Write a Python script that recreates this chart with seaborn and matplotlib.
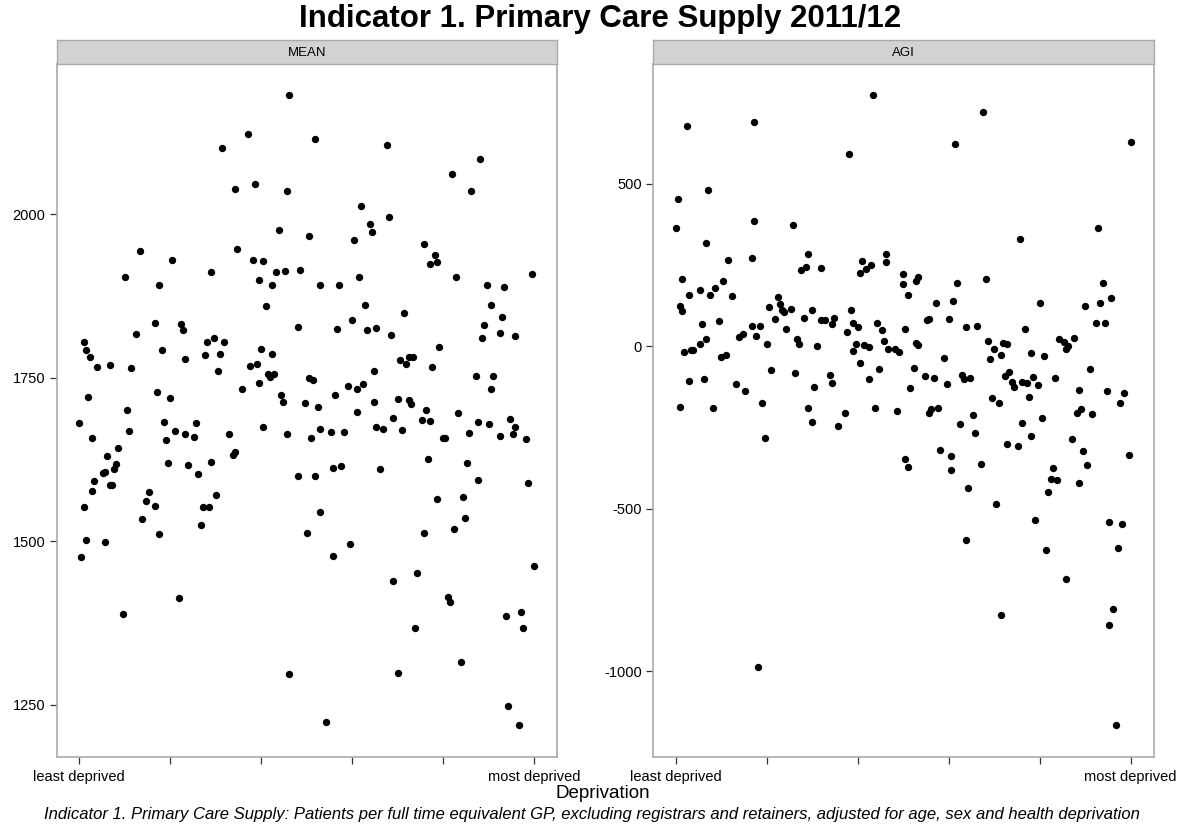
#indicator 1 - primary care supply, mean vs agi by deprivation

import numpy as np
import pandas as pd
import matplotlib.pyplot as plt
import seaborn as sns

#data (rank deprivasi 1..211)
mean_rank = [98, 79, 67, 110, 73, 82, 97, 93, 107, 29, 44, 74, 81, 86, 22, 38, 62, 92, 96, 103,
             84, 90, 112, 87, 102, 36, 48, 49, 27, 3, 4, 6, 9, 15, 25, 39, 50, 60, 63, 68,
             59, 66, 65, 85, 90, 80, 83, 88, 89, 91, 84, 76, 107, 109, 94, 95, 105, 111, 5, 37,
             43, 23, 1, 24, 40, 45, 50, 55, 54, 41, 7, 70, 86, 97, 108, 112, 19, 14, 18, 17,
             12, 13, 8, 7, 15, 16, 3, 4, 2, 13, 21, 42, 51, 56, 62, 33, 32, 36, 30, 38,
             58, 61, 64, 57, 72, 73, 47, 102, 110, 106, 98, 112, 143, 186, 173, 182, 131, 144, 135, 136,
             128, 160, 165, 163, 166, 121, 130, 175, 210, 189, 197, 133, 151, 191, 196, 127, 120, 134, 138, 145,
             188, 187, 195, 202, 167, 149, 153, 155, 152, 164, 137, 184, 192, 191, 125, 129, 132, 119, 137, 148,
             153, 154, 129, 161, 176, 146, 159, 163, 185, 190, 200, 202, 201, 195, 207, 181, 117, 123, 138, 141,
             150, 169, 170, 118, 122, 140, 126, 118, 162, 180, 185, 208, 166, 178, 179, 174, 160, 211, 157, 146,
             171, 172, 198, 205, 206, 156, 148, 177, 199, 204, 115]
mean_value = [2182, 2123, 2101, 2115, 2039, 2046, 2035, 1976, 1967, 1944, 1930, 1946, 1929, 1928, 1904, 1891, 1912, 1911, 1913, 1915,
              1899, 1891, 1892, 1860, 1827, 1833, 1832, 1822, 1817, 1805, 1792, 1782, 1766, 1769, 1765, 1792, 1778, 1804, 1810, 1804,
              1784, 1786, 1760, 1793, 1786, 1767, 1771, 1756, 1751, 1756, 1741, 1732, 1749, 1747, 1723, 1713, 1711, 1705, 1720, 1728,
              1718, 1701, 1680, 1668, 1682, 1668, 1664, 1680, 1659, 1655, 1657, 1663, 1675, 1664, 1658, 1671, 1643, 1630, 1618, 1610,
              1604, 1606, 1592, 1577, 1586, 1585, 1552, 1502, 1475, 1498, 1388, 1620, 1617, 1603, 1621, 1575, 1561, 1554, 1533, 1511,
              1552, 1552, 1570, 1525, 1631, 1636, 1413, 1599, 1599, 1512, 1297, 1545, 2106, 2084, 2062, 2036, 2013, 1996, 1985, 1973,
              1960, 1954, 1938, 1924, 1927, 1891, 1904, 1904, 1908, 1892, 1889, 1861, 1849, 1861, 1843, 1838, 1825, 1822, 1826, 1815,
              1831, 1810, 1818, 1814, 1796, 1777, 1781, 1781, 1770, 1766, 1760, 1753, 1752, 1732, 1737, 1732, 1740, 1724, 1713, 1717,
              1716, 1709, 1698, 1701, 1696, 1688, 1685, 1683, 1682, 1679, 1686, 1674, 1664, 1660, 1656, 1665, 1667, 1667, 1674, 1672,
              1670, 1657, 1658, 1611, 1615, 1610, 1496, 1477, 1626, 1619, 1593, 1589, 1564, 1567, 1536, 1519, 1512, 1462, 1451, 1439,
              1415, 1407, 1386, 1392, 1367, 1367, 1299, 1315, 1248, 1218, 1223]

agi_rank = [92, 6, 37, 81, 2, 16, 1, 37, 55, 15, 25, 36, 62, 98, 4, 7, 12, 17, 19, 23,
            27, 59, 61, 68, 87, 89, 91, 86, 98, 106, 106, 108, 3, 4, 13, 21, 48, 44, 49, 50,
            51, 54, 47, 52, 36, 40, 38, 60, 64, 68, 70, 74, 73, 82, 83, 85, 94, 96, 107, 80,
            30, 32, 12, 15, 43, 57, 58, 66, 84, 88, 90, 97, 99, 102, 104, 83, 5, 8, 9, 22,
            24, 86, 95, 45, 56, 72, 73, 90, 7, 14, 29, 33, 65, 109, 3, 18, 41, 62, 64, 76,
            79, 93, 103, 42, 107, 108, 39, 143, 130, 211, 196, 160, 112, 113, 131, 144, 121, 129, 169, 190,
            197, 198, 202, 117, 118, 127, 135, 140, 162, 195, 199, 112, 113, 125, 145, 148, 146, 151, 152, 154,
            165, 171, 178, 180, 185, 181, 182, 111, 116, 120, 126, 133, 134, 137, 155, 153, 156, 157, 161, 163,
            166, 168, 176, 192, 164, 147, 150, 187, 200, 208, 206, 118, 119, 122, 138, 132, 139, 161, 165, 170,
            186, 188, 193, 184, 123, 128, 128, 142, 154, 159, 136, 149, 135, 151, 167, 172, 181, 175, 174, 177,
            173, 189, 191, 187, 210, 201, 207, 205, 203, 201, 204]
agi_value = [773, 679, 690, 593, 453, 480, 363, 385, 372, 319, 265, 273, 283, 285, 206, 157, 174, 157, 179, 201,
             155, 234, 244, 242, 261, 239, 249, 225, 258, 222, 192, 158, 124, 108, 68, 77, 151, 122, 129, 112,
             104, 115, 83, 54, 62, 61, 31, 86, 112, 82, 80, 88, 68, 111, 71, 59, 73, 51, 54, 44,
             29, 37, 8, 22, 8, 21, 8, 1, 7, 3, -2, 16, -10, -8, -18, -15, -18, -13, -13, -32,
             -26, -53, -69, -74, -83, -90, -112, -102, -107, -102, -117, -139, -126, -128, -188, -190, -175, -189, -234, -247,
             -206, -191, -199, -282, -348, -371, -987, 722, 622, 627, 364, 330, 202, 213, 195, 206, 132, 138, 133, 124,
             134, 195, 148, 80, 84, 85, 59, 62, 54, 73, 73, 11, 3, -35, 15, -7, -40, -28, 11, 6,
             -22, -30, 21, 12, 25, -7, 1, -68, -91, -98, -117, -87, -101, -99, -78, -92, -111, -126, -109, -113,
             -94, -119, -98, -71, -157, -160, -176, -135, -139, -144, -176, -205, -192, -190, -212, -238, -268, -237, -275, -221,
             -205, -192, -210, -287, -320, -339, -381, -363, -301, -307, -437, -487, -597, -828, -535, -628, -716, -374, -408, -412,
             -449, -321, -366, -422, -336, -541, -547, -622, -808, -859, -1167]

panels = ['MEAN', 'AGI']
x_labels = ['least deprived', '', '', '', '', 'most deprived']

df = pd.concat([
    pd.DataFrame({'rank': mean_rank, 'value': mean_value, 'measure': 'MEAN'}),
    pd.DataFrame({'rank': agi_rank, 'value': agi_value, 'measure': 'AGI'}),
])

sns.set_style('white')
plt.rcParams['font.family'] = ['Liberation Sans', 'DejaVu Sans']
plt.rcParams['axes.unicode_minus'] = False
plt.rcParams['text.color'] = 'black'

fig = plt.figure(figsize=(11.84, 8.31), dpi=100)
W, H = 1184, 831
border = '#aaaaaa'

# posisi panel (piksel) -> fraksi figure
panel_left = [56.5, 653]
panel_w = 500.5
panel_top, panel_bottom = 63.5, 757
strip_top = 40

xticks = np.linspace(1, 211, 6)

for i, name in enumerate(panels):
    ax = fig.add_axes([panel_left[i] / W, 1 - panel_bottom / H,
                       panel_w / W, (panel_bottom - panel_top) / H])
    sub = df[df['measure'] == name]
    sns.scatterplot(data=sub, x='rank', y='value', color='black', s=28,
                    linewidth=0, ax=ax, legend=False)

    # batas sumbu ala ggplot (expand 5%)
    lo, hi = sub['value'].min(), sub['value'].max()
    pad = (hi - lo) * 0.05
    ax.set_ylim(lo - pad, hi + pad)
    ax.set_xlim(1 - 210 * 0.05, 211 + 210 * 0.05)

    if name == 'MEAN':
        ax.set_yticks([1250, 1500, 1750, 2000])
    else:
        ax.set_yticks([-1000, -500, 0, 500])
    ax.set_xticks(xticks)
    ax.set_xticklabels(x_labels)
    ax.tick_params(axis='both', direction='out', length=5, width=0.9,
                   color='#333333', labelsize=10.5, pad=3, labelcolor='black',
                   bottom=True, left=True)
    ax.tick_params(axis='x', pad=4)
    ax.set_xlabel('')
    ax.set_ylabel('')
    ax.grid(False)
    for sp in ax.spines.values():
        sp.set_color(border)
        sp.set_linewidth(1.2)

    # strip
    sax = fig.add_axes([panel_left[i] / W, 1 - panel_top / H,
                        panel_w / W, (panel_top - strip_top) / H])
    sax.set_facecolor('#d2d2d2')
    sax.set_xticks([])
    sax.set_yticks([])
    for sp in sax.spines.values():
        sp.set_color(border)
        sp.set_linewidth(1.0)
    sax.text(0.5, 0.45, name, ha='center', va='center', fontsize=9.5,
             transform=sax.transAxes)

fig.text(600 / W, 1 - 19 / H, 'Indicator 1. Primary Care Supply 2011/12',
         ha='center', va='center', fontsize=22.5, fontweight='bold')
fig.text(603 / W, 1 - 793 / H, 'Deprivation', ha='center', va='center', fontsize=13.5)
fig.text(592 / W, 1 - 815 / H,
         'Indicator 1. Primary Care Supply: Patients per full time equivalent GP, '
         'excluding registrars and retainers, adjusted for age, sex and health deprivation',
         ha='center', va='center', fontsize=12, style='italic')

plt.savefig('out.png', dpi=100)
